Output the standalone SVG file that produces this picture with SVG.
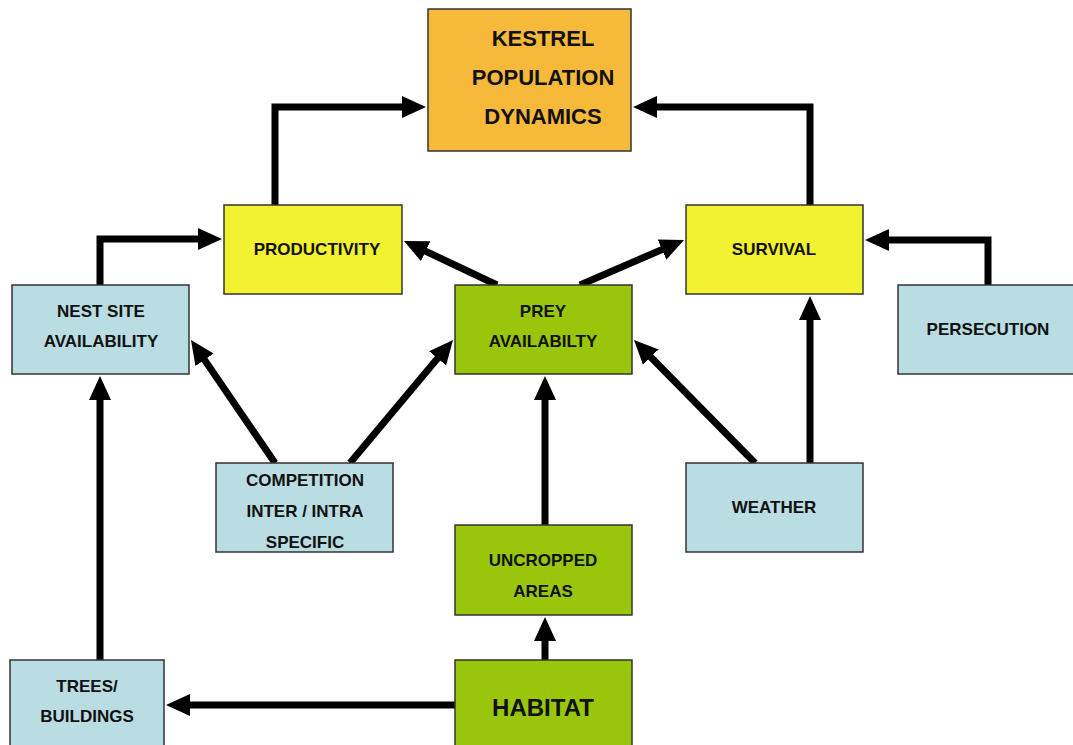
<svg xmlns="http://www.w3.org/2000/svg" width="1073" height="745" viewBox="0 0 1073 745">
<defs>
<marker id="ah" markerUnits="userSpaceOnUse" markerWidth="26" markerHeight="26" viewBox="0 0 26 26" refX="16" refY="13" orient="auto">
<path d="M0,2 L24,13 L0,24 Z" fill="#000"/>
</marker>
<style>
.box{stroke:#333;stroke-width:1.5}
.k{fill:#F6B93A}.y{fill:#F2F230}.b{fill:#B9DDE2}.g{fill:#99C60A}
text{font-family:"Liberation Sans",Arial,sans-serif;font-weight:bold;fill:#111;text-anchor:middle;dominant-baseline:central;font-size:17px}
.big{font-size:22px}
.hab{font-size:24px}
.c{fill:none;stroke:#000;stroke-width:7;marker-end:url(#ah)}
</style>
</defs>
<rect width="1073" height="745" fill="#fff"/>
<g id="connectors">
<path class="c" d="M275,205 V107 H418"/>
<path class="c" d="M810,205 V107 H641"/>
<path class="c" d="M100,285 V239 H214"/>
<path class="c" d="M988,285 V240 H873"/>
<path class="c" d="M497,285 L411.2,244.4"/>
<path class="c" d="M580,285 L676.7,243.2"/>
<path class="c" d="M275,463 L195.5,346.6"/>
<path class="c" d="M350,463 L447.9,346.1"/>
<path class="c" d="M755,463 L639.6,345.7"/>
<path class="c" d="M810,463 V304"/>
<path class="c" d="M545,525 V384"/>
<path class="c" d="M545,660 V625"/>
<path class="c" d="M455,705 H174"/>
<path class="c" d="M100,660 V384"/>
</g>
<g id="kestrel"><rect class="box k" x="428" y="9" width="203" height="142"/><text class="big" x="543" y="38">KESTREL</text><text class="big" x="543" y="77">POPULATION</text><text class="big" x="543" y="116">DYNAMICS</text></g>
<g id="productivity"><rect class="box y" x="224" y="205" width="178" height="89"/><text x="317" y="249">PRODUCTIVITY</text></g>
<g id="survival"><rect class="box y" x="686" y="205" width="177" height="89"/><text x="774" y="249">SURVIVAL</text></g>
<g id="nestsite"><rect class="box b" x="12" y="285" width="177" height="89"/><text x="101" y="311">NEST SITE</text><text x="101" y="341">AVAILABILITY</text></g>
<g id="prey"><rect class="box g" x="455" y="285" width="177" height="89"/><text x="543" y="311">PREY</text><text x="543" y="341">AVAILABILTY</text></g>
<g id="persecution"><rect class="box b" x="898" y="285" width="176" height="89"/><text x="988" y="329">PERSECUTION</text></g>
<g id="competition"><rect class="box b" x="216" y="463" width="177" height="89"/><text x="305" y="480">COMPETITION</text><text x="305" y="511">INTER / INTRA</text><text x="305" y="542">SPECIFIC</text></g>
<g id="weather"><rect class="box b" x="686" y="463" width="177" height="89"/><text x="774" y="507">WEATHER</text></g>
<g id="uncropped"><rect class="box g" x="455" y="525" width="177" height="90"/><text x="543" y="560">UNCROPPED</text><text x="543" y="591">AREAS</text></g>
<g id="trees"><rect class="box b" x="10" y="660" width="154" height="90"/><text x="87" y="686">TREES/</text><text x="87" y="716">BUILDINGS</text></g>
<g id="habitat"><rect class="box g" x="455" y="660" width="177" height="90"/><text class="hab" x="543" y="707">HABITAT</text></g>
</svg>
